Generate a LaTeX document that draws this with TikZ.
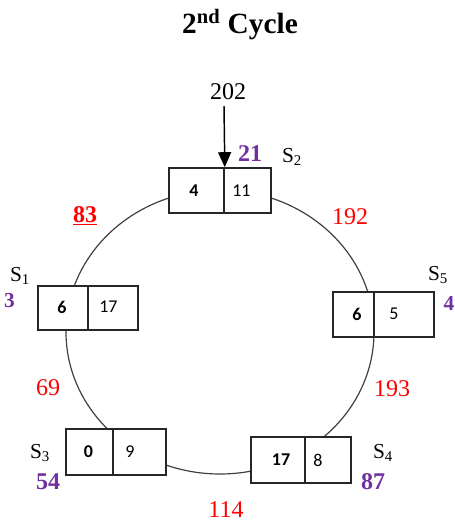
\documentclass[tikz,border=0pt]{standalone}
\usepackage{fontspec}
\setmainfont{Liberation Serif}
\newfontfamily\cellfont{Carlito}
\usetikzlibrary{shapes.geometric,arrows.meta}
\definecolor{cycred}{RGB}{255,0,0}
\definecolor{cycpurple}{RGB}{112,48,160}
\newdimen\pxu \pxu=0.75pt
\begin{document}
\begin{tikzpicture}[x=0.75pt,y=-0.75pt,
  ring/.style={ellipse, draw=black!75, line width=0.9pt, inner sep=0pt},
  cell/.style={draw=black!85, line width=1.2pt, fill=white, inner sep=0pt},
  lnum/.style={font=\cellfont\bfseries\fontsize{13.5}{16}\selectfont, inner sep=0pt},
  rnum/.style={font=\cellfont\fontsize{13.5}{16}\selectfont, inner sep=0pt, anchor=west},
  cost/.style={text=cycred, font=\fontsize{18}{21}\selectfont, inner sep=0pt},
  load/.style={text=cycpurple, font=\bfseries\fontsize{18}{21}\selectfont, inner sep=0pt},
  smallload/.style={text=cycpurple, font=\bfseries\fontsize{16}{19}\selectfont, inner sep=0pt},
  sname/.style={font=\fontsize{16}{19}\selectfont, inner sep=0pt}]
\useasboundingbox (0,0) rectangle (454,523);

% title
\node[anchor=base, inner sep=0pt, font=\bfseries\fontsize{22}{26}\selectfont] (title) at (240,34) {2\textsuperscript{nd} Cycle};

% the ring through the five stations
\node[ring, minimum width=308\pxu, minimum height=284\pxu] (loop) at (220,332) {};

% station S2
\node[cell, minimum width=55\pxu, minimum height=45\pxu] (s2l) at (196.5,190.5) {};
\node[cell, minimum width=47\pxu, minimum height=45\pxu] (s2r) at (247.5,190.5) {};
\node[lnum] (s2a) at (194,191) {4};
\node[rnum] (s2b) at (232,191) {11};
\node[sname] (s2n) at (292,157) {S\textsubscript{2}};
\node[load] (s2w) at (250,154) {21};

% station S1
\node[cell, minimum width=50\pxu, minimum height=44\pxu] (s1l) at (63,308) {};
\node[cell, minimum width=50\pxu, minimum height=44\pxu] (s1r) at (113,308) {};
\node[lnum] (s1a) at (62,307) {6};
\node[rnum] (s1b) at (99,307) {17};
\node[sname] (s1n) at (20,276) {S\textsubscript{1}};
\node[smallload] (s1w) at (9.5,300.5) {3};

% station S5
\node[cell, minimum width=41\pxu, minimum height=45\pxu] (s5l) at (353.5,314.5) {};
\node[cell, minimum width=60\pxu, minimum height=45\pxu] (s5r) at (404,314.5) {};
\node[lnum] (s5a) at (357,314) {6};
\node[rnum] (s5b) at (389,314) {5};
\node[sname] (s5n) at (438,275) {S\textsubscript{5}};
\node[smallload] (s5w) at (449,303) {4};

% station S3
\node[cell, minimum width=47\pxu, minimum height=46\pxu] (s3l) at (89.5,452) {};
\node[cell, minimum width=53\pxu, minimum height=46\pxu] (s3r) at (139.5,452) {};
\node[lnum] (s3a) at (88.5,452) {0};
\node[rnum] (s3b) at (125,452) {9};
\node[sname] (s3n) at (40,453) {S\textsubscript{3}};
\node[load] (s3w) at (48,482) {54};

% station S4
\node[cell, minimum width=54\pxu, minimum height=46\pxu] (s4l) at (278,460) {};
\node[cell, minimum width=46\pxu, minimum height=46\pxu] (s4r) at (328,460) {};
\node[lnum] (s4a) at (281,460) {17};
\node[rnum] (s4b) at (313,460) {8};
\node[sname] (s4n) at (383,453) {S\textsubscript{4}};
\node[load] (s4w) at (373,482) {87};

% link costs
\node[cost, font=\bfseries\fontsize{18}{21}\selectfont] (c12) at (85,216) {\underline{83}};
\node[cost] (c25) at (350,217) {192};
\node[cost] (c54) at (392,389) {193};
\node[cost] (c43) at (226,510) {114};
\node[cost] (c31) at (48,388) {69};

% incoming value
\node[inner sep=0pt, font=\fontsize{18}{21}\selectfont] (inval) at (228,92) {202};
\coordinate (intail) at (224,106);
\draw[line width=1.1pt, -{Triangle[length=11.25pt, width=9.75pt]}] (intail) -- (s2l.north east);
\end{tikzpicture}
\end{document}
